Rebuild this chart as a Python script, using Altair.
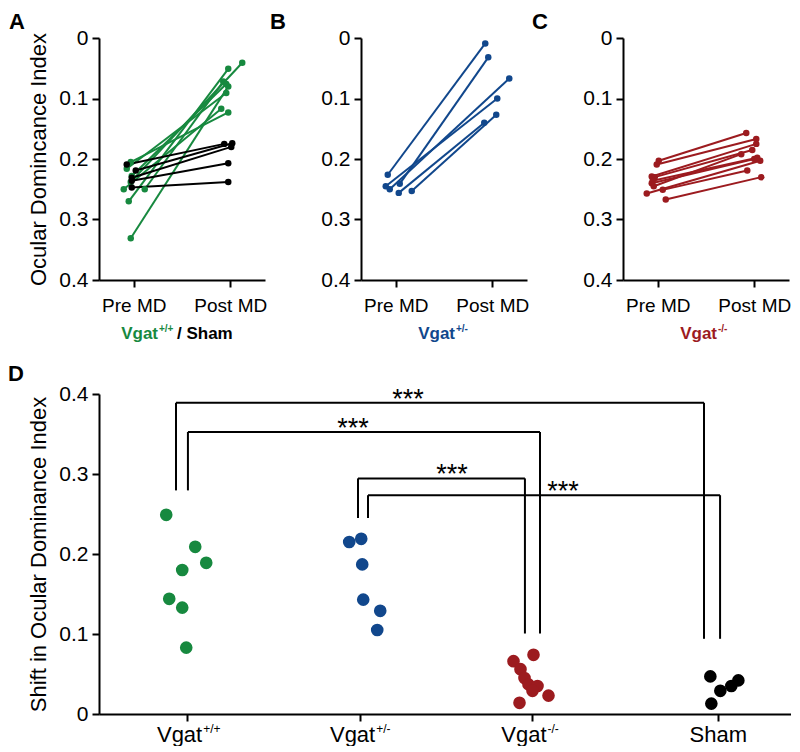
import altair as alt
import pandas as pd

FONT = "Liberation Sans"
GREEN = "#17893f"
BLUE = "#11478c"
RED = "#9c1b1f"
BLACK = "#000000"

# ---------------- Panel A: Vgat+/+ (green) and Sham (black) ----------------
a_green_pre = [0.331, 0.270, 0.250, 0.250, 0.238, 0.216, 0.205, 0.228]
a_green_pre_jit = [-3, -5, -10, 11, -3, -7, -3, -2]
a_green_post = [0.080, 0.051, 0.117, 0.072, 0.041, 0.091, 0.123, 0.076]
a_green_post_jit = [-2, -2, -9, -7, 12, -4, -2, -4]

a_black_pre = [0.209, 0.219, 0.231, 0.236, 0.247]
a_black_pre_jit = [-7, 2, -2, -2, -2]
a_black_post = [0.175, 0.174, 0.180, 0.207, 0.238]
a_black_post_jit = [-6, 2, 1, -2, -2]

# ---------------- Panel B: Vgat+/- ----------------
b_pre = [0.226, 0.241, 0.245, 0.250, 0.256, 0.253]
b_pre_jit = [-8, 4, -10, -6, 3, 16]
b_post = [0.009, 0.032, 0.100, 0.067, 0.140, 0.127]
b_post_jit = [-7, -4, 5, 17, -8, 4]

# ---------------- Panel C: Vgat-/- ----------------
c_pre = [0.203, 0.209, 0.229, 0.230, 0.240, 0.245, 0.257, 0.251, 0.267, 0.236]
c_pre_jit = [1, -1, -6, -3, -6, -4, -11, 5, 8, -5]
c_post = [0.157, 0.167, 0.175, 0.185, 0.200, 0.192, 0.203, 0.219, 0.230, 0.198]
c_post_jit = [-8, 2, 2, -2, 0, -13, 6, -7, 7, 3]

# ---------------- Panel D: shift in ODI ----------------
d_groups = ["Vgat+/+", "Vgat+/-", "Vgat-/-", "Sham"]
d_colors = [GREEN, BLUE, RED, BLACK]
d_positions = [0.51, 1.51, 2.5, 3.58]
d_green = [0.249, 0.209, 0.189, 0.180, 0.144, 0.133, 0.083]
d_green_jit = [-21, 8, 19, -5, -18, -5, -1]
d_blue = [0.219, 0.215, 0.187, 0.143, 0.129, 0.105]
d_blue_jit = [1, -11, 2, 3, 20, 17]
d_red = [0.074, 0.066, 0.056, 0.045, 0.037, 0.035, 0.029, 0.023, 0.014]
d_red_jit = [2, -18, -11, -7, -3, 6, 1, 17, -12]
d_black = [0.047, 0.042, 0.035, 0.029, 0.013]
d_black_jit = [-8, 20, 13, 2, -7]

# significance brackets (data units)
br_left = [0.445, 0.514, 1.497, 1.555]
br_right = [3.497, 2.549, 2.462, 3.590]
br_top = [0.389, 0.3525, 0.2945, 0.2735]
br_left_bottom = [0.2795, 0.2795, 0.245, 0.245]
br_right_bottom = [0.094, 0.1006, 0.1006, 0.094]
star_x = [1.786, 1.468, 2.040, 2.682]
star_text = ["***", "***", "***", "***"]

d_label_main = ["Vgat", "Vgat", "Vgat"]
d_label_sup = ["+/+", "+/-", "-/-"]

# ---------------- layout constants ----------------
TW, TH = 166, 242
TOP_PX_PER_UNIT = TW / 1.72
DW, DH = 692, 320
D_PX_PER_UNIT = DW / 4.0


def pairs_df(pre, pre_jit, post, post_jit, grp, col):
    rows = []
    for i in range(len(pre)):
        rows.append({"id": f"{grp}{i}", "col": col, "phase": 0, "value": pre[i],
                     "xpos": 0 + pre_jit[i] / TOP_PX_PER_UNIT})
        rows.append({"id": f"{grp}{i}", "col": col, "phase": 1, "value": post[i],
                     "xpos": 1 + post_jit[i] / TOP_PX_PER_UNIT})
    return pd.DataFrame(rows)


def txt(text, x, y, color=BLACK, size=17, bold=True, align="left", baseline="alphabetic"):
    return alt.Chart(pd.DataFrame({"t": [text]})).mark_text(
        font=FONT, fontSize=size, fontWeight="bold" if bold else "normal",
        color=color, align=align, baseline=baseline
    ).encode(text="t:N", x=alt.value(x), y=alt.value(y))


def top_panel(df, letter, ytitle, labels, letter_x):
    x = alt.X("xpos:Q", scale=alt.Scale(domain=[-0.36, 1.36], nice=False, zero=False),
              axis=alt.Axis(values=[0, 1], grid=False, title=None, labelFontSize=19,
                            labelPadding=9, tickSize=7,
                            labelExpr="datum.value == 0 ? 'Pre MD' : 'Post MD'"))
    yaxis = alt.Axis(values=[0, 0.1, 0.2, 0.3, 0.4], grid=False, tickSize=7, labelPadding=4,
                     labelFontSize=21,
                     labelExpr="datum.value == 0 ? '0' : format(datum.value, '.1f')")
    yscale = alt.Scale(domain=[0, 0.4], reverse=True, nice=False, zero=False)
    if ytitle:
        y = alt.Y("value:Q", scale=yscale, axis=yaxis, title=ytitle)
    else:
        y = alt.Y("value:Q", scale=yscale, axis=yaxis, title=None)
    color = alt.Color("col:N", scale=None)
    base = alt.Chart(df)
    lines = base.mark_line(strokeWidth=2).encode(x=x, y=y, color=color, detail="id:N")
    pts = base.mark_circle(size=42, opacity=1).encode(x=x, y=y, color=color)
    layers = [lines, pts, txt(letter, letter_x, -26, size=22, baseline="top")] + labels
    return alt.layer(*layers).properties(width=TW, height=TH)


dfA = pd.concat([pairs_df(a_green_pre, a_green_pre_jit, a_green_post, a_green_post_jit, "g", GREEN),
                 pairs_df(a_black_pre, a_black_pre_jit, a_black_post, a_black_post_jit, "k", BLACK)])
dfB = pairs_df(b_pre, b_pre_jit, b_post, b_post_jit, "b", BLUE)
dfC = pairs_df(c_pre, c_pre_jit, c_post, c_post_jit, "r", RED)

LBY = 301
labA = [txt("Vgat", 59, LBY, GREEN, align="right"),
        txt("+/+", 60, LBY - 7, GREEN, size=10),
        txt("/ Sham", 78, LBY, BLACK)]
labB = [txt("Vgat", 94, LBY, BLUE, align="right"),
        txt("+/-", 95, LBY - 7, BLUE, size=10)]
labC = [txt("Vgat", 94, LBY, RED, align="right"),
        txt("-/-", 95, LBY - 7, RED, size=10)]

pA = top_panel(dfA, "A", "Ocular Domincance Index", labA, -90)
pB = top_panel(dfB, "B", None, labB, -91)
pC = top_panel(dfC, "C", None, labC, -91)

top = alt.hconcat(pA, pB, pC, spacing=3)

# ---------------- Panel D chart ----------------
rows = []
for name, col, pos, vals, jit in zip(d_groups, d_colors, d_positions,
                                     [d_green, d_blue, d_red, d_black],
                                     [d_green_jit, d_blue_jit, d_red_jit, d_black_jit]):
    for v, j in zip(vals, jit):
        rows.append({"grp": name, "col": col, "value": v, "xpos": pos + j / D_PX_PER_UNIT})
dfD = pd.DataFrame(rows)

segs = []
for l, r, t, lb, rb in zip(br_left, br_right, br_top, br_left_bottom, br_right_bottom):
    segs.append({"x": l, "x2": r, "y": t, "y2": t})
    segs.append({"x": l, "x2": l, "y": t, "y2": lb})
    segs.append({"x": r, "x2": r, "y": t, "y2": rb})
dfSeg = pd.DataFrame(segs)
dfStar = pd.DataFrame({"x": star_x, "y": br_top, "t": star_text})

dx = alt.X("xpos:Q", scale=alt.Scale(domain=[0, 4], nice=False, zero=False),
           axis=alt.Axis(values=d_positions, labels=False, grid=False, tickSize=7), title=None)
dy = alt.Y("value:Q", scale=alt.Scale(domain=[0, 0.4], nice=False),
           axis=alt.Axis(values=[0, 0.1, 0.2, 0.3, 0.4], grid=False, tickSize=7, labelPadding=4,
                         labelFontSize=21,
                         labelExpr="datum.value == 0 ? '0' : format(datum.value, '.1f')"),
           title="Shift in Ocular Dominance Index")

ptsD = alt.Chart(dfD).mark_circle(size=160, opacity=1).encode(
    x=dx, y=dy, color=alt.Color("col:N", scale=None))

sx = alt.X("x:Q", scale=alt.Scale(domain=[0, 4], nice=False, zero=False))
sy = alt.Y("y:Q", scale=alt.Scale(domain=[0, 0.4], nice=False))
rules = alt.Chart(dfSeg).mark_rule(strokeWidth=2, color=BLACK).encode(
    x=sx, x2="x2:Q", y=sy, y2="y2:Q")
stars = alt.Chart(dfStar).mark_text(font=FONT, fontSize=27, color=BLACK,
                                    baseline="alphabetic", dy=5).encode(
    x=sx, y=sy, text="t:N")

dfLab = pd.DataFrame({"x": d_positions[:3], "main": d_label_main, "sup": d_label_sup})
labMain = alt.Chart(dfLab).mark_text(font=FONT, fontSize=22, align="right", dx=15,
                                     baseline="alphabetic", color=BLACK).encode(
    x=sx, y=alt.value(DH + 28), text="main:N")
labSup = alt.Chart(dfLab).mark_text(font=FONT, fontSize=12, align="left", dx=16,
                                    baseline="alphabetic", color=BLACK).encode(
    x=sx, y=alt.value(DH + 19), text="sup:N")
dfSham = pd.DataFrame({"x": [d_positions[3]], "main": ["Sham"]})
labSham = alt.Chart(dfSham).mark_text(font=FONT, fontSize=22, align="center",
                                      baseline="alphabetic", color=BLACK).encode(
    x=sx, y=alt.value(DH + 28), text="main:N")

pD = alt.layer(rules, stars, ptsD, labMain, labSup, labSham,
               txt("D", -91, -30, size=22, baseline="top")).properties(width=DW, height=DH)

chart = alt.vconcat(top, pD, spacing=21).properties(
    padding={"left": 0, "top": 3, "right": 0, "bottom": 0}
).configure_axis(
    domainColor=BLACK, domainWidth=2, tickColor=BLACK, tickWidth=2,
    labelColor=BLACK, labelFont=FONT, titleFont=FONT, titleColor=BLACK,
    titleFontWeight="normal", titleFontSize=22, titlePadding=8
).configure_view(strokeWidth=0)

chart.save("out.html", embed_options={"renderer": "svg", "actions": False})
